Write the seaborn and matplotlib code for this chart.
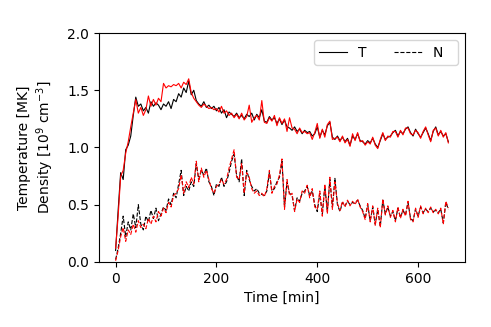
import numpy as np
import matplotlib
matplotlib.use("Agg")
import matplotlib.pyplot as plt
import seaborn as sns

# time axis, minutes
time = np.arange(0, 661, 5)

# temperature [MK], model (black) and fit (red)
T_black = [0.10, 0.45, 0.78, 0.72, 0.98, 1.02, 1.10, 1.28, 1.44, 1.36,
           1.38, 1.32, 1.35, 1.30, 1.40, 1.36, 1.39, 1.37, 1.33, 1.38,
           1.36, 1.40, 1.34, 1.42, 1.40, 1.47, 1.44, 1.52, 1.48, 1.58,
           1.46, 1.50, 1.41, 1.38, 1.36, 1.40, 1.35, 1.37, 1.34, 1.36,
           1.32, 1.35, 1.30, 1.33, 1.26, 1.31, 1.29, 1.27, 1.30, 1.26,
           1.28, 1.25, 1.29, 1.27, 1.30, 1.24, 1.29, 1.26, 1.33, 1.23,
           1.22, 1.27, 1.24, 1.26, 1.21, 1.25, 1.20, 1.24, 1.18, 1.17,
           1.15, 1.18, 1.14, 1.16, 1.12, 1.15, 1.13, 1.14, 1.10, 1.12,
           1.18, 1.09, 1.15, 1.11, 1.19, 1.22, 1.09, 1.07, 1.10, 1.06,
           1.09, 1.05, 1.08, 1.02, 1.10, 1.07, 1.12, 1.06, 1.05, 1.03,
           1.06, 1.04, 1.08, 1.03, 1.00, 1.06, 1.12, 1.07, 1.09, 1.10,
           1.13, 1.15, 1.10, 1.14, 1.12, 1.16, 1.18, 1.13, 1.10, 1.16,
           1.12, 1.09, 1.13, 1.17, 1.12, 1.06, 1.14, 1.18, 1.11, 1.14,
           1.10, 1.12, 1.05]
T_red = [0.12, 0.40, 0.75, 0.80, 0.95, 1.05, 1.18, 1.30, 1.42, 1.30,
         1.35, 1.28, 1.33, 1.45, 1.36, 1.42, 1.37, 1.43, 1.40, 1.56,
         1.52, 1.54, 1.53, 1.55, 1.54, 1.56, 1.52, 1.57, 1.55, 1.60,
         1.48, 1.43, 1.40, 1.37, 1.35, 1.38, 1.36, 1.34, 1.35, 1.33,
         1.34, 1.31, 1.36, 1.30, 1.32, 1.28, 1.30, 1.26, 1.29, 1.25,
         1.30, 1.24, 1.27, 1.37, 1.22, 1.26, 1.28, 1.24, 1.41, 1.22,
         1.21, 1.26, 1.23, 1.28, 1.19, 1.26, 1.21, 1.25, 1.14, 1.26,
         1.17, 1.16, 1.12, 1.17, 1.13, 1.14, 1.12, 1.13, 1.07, 1.13,
         1.21, 1.08, 1.16, 1.09, 1.20, 1.23, 1.07, 1.08, 1.09, 1.05,
         1.10, 1.04, 1.07, 1.01, 1.12, 1.06, 1.13, 1.05, 1.06, 1.02,
         1.05, 1.03, 1.09, 1.02, 0.99, 1.07, 1.13, 1.06, 1.10, 1.09,
         1.14, 1.14, 1.09, 1.15, 1.11, 1.17, 1.17, 1.12, 1.11, 1.15,
         1.13, 1.08, 1.14, 1.18, 1.11, 1.05, 1.15, 1.17, 1.10, 1.15,
         1.09, 1.13, 1.04]

# density [1e9 cm^-3], model (black) and fit (red)
N_black = [0.02, 0.12, 0.25, 0.40, 0.22, 0.35, 0.28, 0.42, 0.30, 0.50,
           0.33, 0.28, 0.40, 0.35, 0.45, 0.38, 0.47, 0.36, 0.42, 0.48,
           0.45, 0.55, 0.50, 0.60, 0.56, 0.68, 0.80, 0.58, 0.66, 0.62,
           0.70, 0.66, 0.86, 0.72, 0.80, 0.76, 0.82, 0.70, 0.66, 0.58,
           0.68, 0.66, 0.74, 0.66, 0.70, 0.78, 0.88, 0.94, 0.76, 0.70,
           0.90, 0.58, 0.80, 0.72, 0.66, 0.62, 0.64, 0.60, 0.59, 0.58,
           0.62, 0.78, 0.62, 0.64, 0.70, 0.74, 0.88, 0.48, 0.70, 0.60,
           0.58, 0.45, 0.56, 0.53, 0.60, 0.62, 0.66, 0.58, 0.62, 0.50,
           0.44, 0.60, 0.42, 0.66, 0.44, 0.72, 0.48, 0.73, 0.50, 0.44,
           0.52, 0.49, 0.53, 0.50, 0.52, 0.51, 0.54, 0.49, 0.45, 0.38,
           0.50, 0.36, 0.48, 0.33, 0.46, 0.31, 0.54, 0.42, 0.48, 0.40,
           0.44, 0.36, 0.47, 0.39, 0.45, 0.41, 0.52, 0.38, 0.36, 0.46,
           0.40, 0.48, 0.43, 0.46, 0.44, 0.47, 0.44, 0.45, 0.43, 0.46,
           0.34, 0.52, 0.46]
N_red = [0.01, 0.10, 0.22, 0.30, 0.18, 0.28, 0.24, 0.33, 0.26, 0.36,
         0.30, 0.33, 0.29, 0.38, 0.33, 0.40, 0.35, 0.44, 0.40, 0.47,
         0.43, 0.52, 0.48, 0.58, 0.60, 0.64, 0.76, 0.60, 0.70, 0.65,
         0.74, 0.68, 0.88, 0.70, 0.82, 0.74, 0.80, 0.72, 0.64, 0.60,
         0.66, 0.68, 0.72, 0.68, 0.72, 0.82, 0.90, 0.98, 0.74, 0.72,
         0.86, 0.60, 0.78, 0.74, 0.64, 0.60, 0.62, 0.58, 0.60, 0.57,
         0.64, 0.80, 0.60, 0.66, 0.68, 0.76, 0.90, 0.46, 0.72, 0.58,
         0.60, 0.44, 0.55, 0.52, 0.62, 0.60, 0.67, 0.56, 0.64, 0.48,
         0.46, 0.62, 0.40, 0.68, 0.42, 0.74, 0.46, 0.70, 0.51, 0.45,
         0.53, 0.48, 0.54, 0.49, 0.53, 0.50, 0.55, 0.48, 0.44, 0.37,
         0.51, 0.35, 0.49, 0.32, 0.47, 0.30, 0.55, 0.41, 0.49, 0.39,
         0.45, 0.35, 0.48, 0.38, 0.46, 0.40, 0.53, 0.37, 0.35, 0.47,
         0.39, 0.49, 0.42, 0.47, 0.43, 0.48, 0.43, 0.46, 0.42, 0.47,
         0.33, 0.53, 0.47]

fig = plt.figure(figsize=(4.91, 3.27), dpi=100)
ax = fig.add_axes([0.2016, 0.199, 0.7454, 0.700])

sns.lineplot(x=time, y=T_black, color="black", lw=0.8, label="T", ax=ax)
sns.lineplot(x=time, y=N_black, color="black", lw=0.8, ls="--", label="N  ", ax=ax)
sns.lineplot(x=time, y=T_red, color="red", lw=0.8, ax=ax)
sns.lineplot(x=time, y=N_red, color="red", lw=0.8, ls="--", ax=ax)

ax.set_ylim(0, 2.0)
ax.set_yticks([0.0, 0.5, 1.0, 1.5, 2.0])
ax.set_xticks([0, 200, 400, 600])
ax.set_xlabel("Time [min]")
ax.set_ylabel("Temperature [MK]\nDensity [$10^9$ cm$^{-3}$]", labelpad=8)
ax.legend(loc="upper right", ncol=2)

fig.savefig("out.png", dpi=100)
